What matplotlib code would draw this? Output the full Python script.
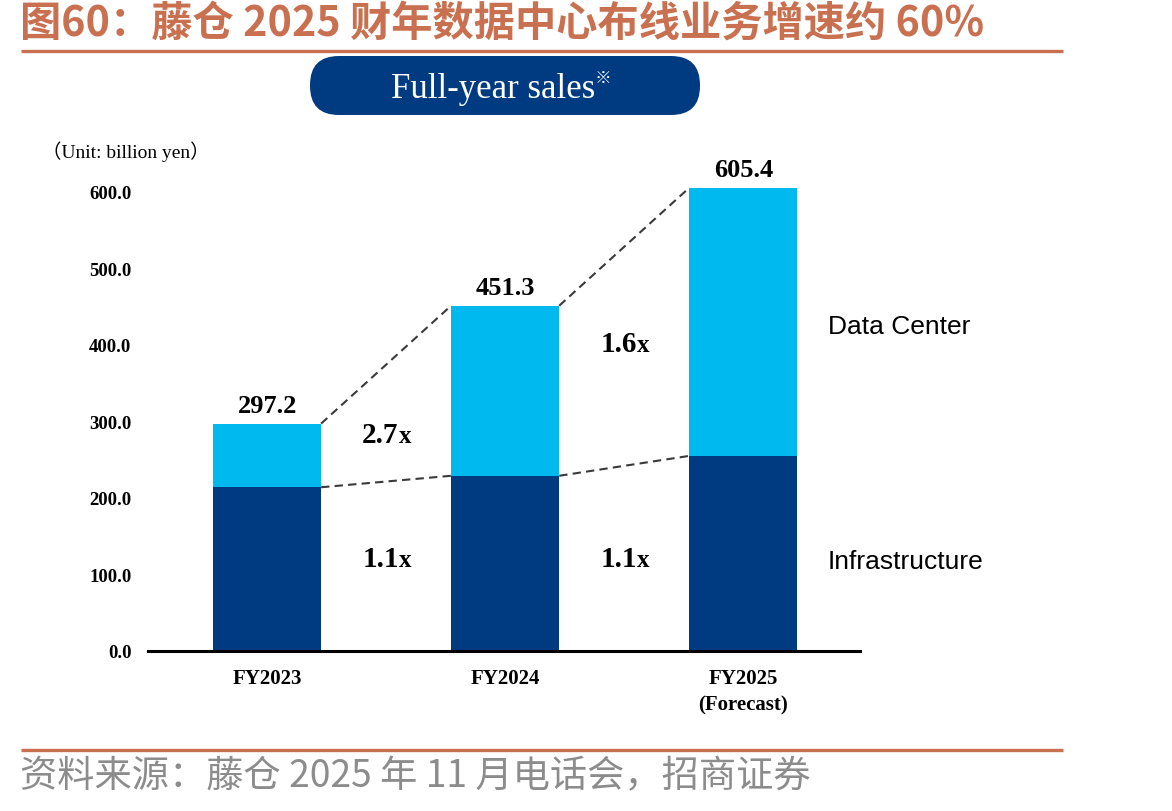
import matplotlib
matplotlib.use("Agg")
import matplotlib.pyplot as plt
from matplotlib.patches import FancyBboxPatch

# 数据：藤仓全年销售额（十亿日元）
years = ["FY2023", "FY2024", "FY2025\n(Forecast)"]
infra = [214.0, 229.0, 255.0]
data_center = [83.2, 222.3, 350.4]
dc_growth = ["2.7", "1.6"]
infra_growth = ["1.1", "1.1"]
yticks = [0, 100, 200, 300, 400, 500, 600]

navy = "#003B82"
light = "#00B9EF"
red = "#C8704F"
serif = ["Liberation Serif", "Noto Sans CJK SC"]
cjk = ["Noto Sans CJK SC", "DejaVu Sans"]

fig = plt.figure(figsize=(11.72, 8.12), dpi=100)

# 背景层，用像素坐标画标题、分隔线和标签框
bg = fig.add_axes([0, 0, 1, 1])
bg.set_xlim(0, 1172)
bg.set_ylim(812, 0)
bg.axis("off")

bg.text(20, 24, "图60：藤仓 2025 财年数据中心布线业务增速约 60%", family=cjk,
        fontsize=29.7, fontweight="bold", color=red, va="center", ha="left")
bg.plot([21, 1063], [51.5, 51.5], color=red, lw=2.4, solid_capstyle="butt")
bg.plot([21, 1063], [751, 751], color=red, lw=2.4, solid_capstyle="butt")
bg.text(20, 777, "资料来源：藤仓 2025 年 11 月电话会，招商证券", family=cjk,
        fontsize=26.8, color="#8C8C8C", va="center", ha="left")

bg.add_patch(FancyBboxPatch((310, 57), 390, 59, boxstyle="round,pad=0,rounding_size=29",
                            facecolor=navy, edgecolor="none"))
bg.text(493, 89, "Full-year sales", family=serif, fontsize=25, color="white",
        ha="center", va="center")
bg.text(603, 78, "※", family=cjk, fontsize=12, color="white", ha="center", va="center")
bg.text(42, 152, "（Unit: billion yen）", family=serif, fontsize=14, ha="left", va="center")

# 主图
ax = fig.add_axes([148 / 1172, 160 / 812, 712 / 1172, 505 / 812])
ax.patch.set_alpha(0)
x = list(range(len(years)))
w = 0.454
ax.bar(x, infra, width=w, color=navy, zorder=2)
ax.bar(x, data_center, width=w, bottom=infra, color=light, zorder=2)

totals = [a + b for a, b in zip(infra, data_center)]
for i, t in enumerate(totals):
    ax.annotate(f"{t:.1f}", (i, t), xytext=(0, 8.5), textcoords="offset points",
                ha="center", va="baseline", family=serif, fontsize=19, fontweight="bold")

# 相邻柱之间的虚线
for i in range(len(x) - 1):
    ax.plot([i + w / 2, i + 1 - w / 2], [totals[i], totals[i + 1]],
            color="#3A3A3A", lw=1.5, ls=(0, (4, 2.5)), zorder=3)
    ax.plot([i + w / 2, i + 1 - w / 2], [infra[i], infra[i + 1]],
            color="#3A3A3A", lw=1.5, ls=(0, (4, 2.5)), zorder=3)

# 增速倍数标注
dc_y = [273, 392]
for i, (g, yy) in enumerate(zip(dc_growth, dc_y)):
    ax.text(i + 0.553, yy, g, ha="right", va="baseline", family=serif,
            fontsize=21, fontweight="bold")
    ax.text(i + 0.553, yy, "x", ha="left", va="baseline", family=serif,
            fontsize=18, fontweight="bold")
for i, g in enumerate(infra_growth):
    ax.text(i + 0.553, 111, g, ha="right", va="baseline", family=serif,
            fontsize=21, fontweight="bold")
    ax.text(i + 0.553, 111, "x", ha="left", va="baseline", family=serif,
            fontsize=18, fontweight="bold")

ax.text(2.355, 425, "Data Center", family="Liberation Sans", fontsize=19, va="center")
ax.text(2.355, 118, "Infrastructure", family="Liberation Sans", fontsize=19, va="center")

ax.set_xlim(-0.5, 2.49)
ax.set_ylim(0, 660)
ax.set_xticks(x)
ax.set_xticklabels(years, family=serif, fontsize=15, fontweight="bold", linespacing=1.45)
ax.set_yticks(yticks)
ax.set_yticklabels([f"{v:.1f}" for v in yticks], family=serif, fontsize=13.5, fontweight="bold")
ax.tick_params(axis="both", length=0)
ax.tick_params(axis="y", pad=12)
ax.tick_params(axis="x", pad=12)
for s in ["top", "left", "right"]:
    ax.spines[s].set_visible(False)
ax.spines["bottom"].set_linewidth(2.2)
ax.spines["bottom"].set_zorder(4)

fig.savefig("out.png", dpi=100)
